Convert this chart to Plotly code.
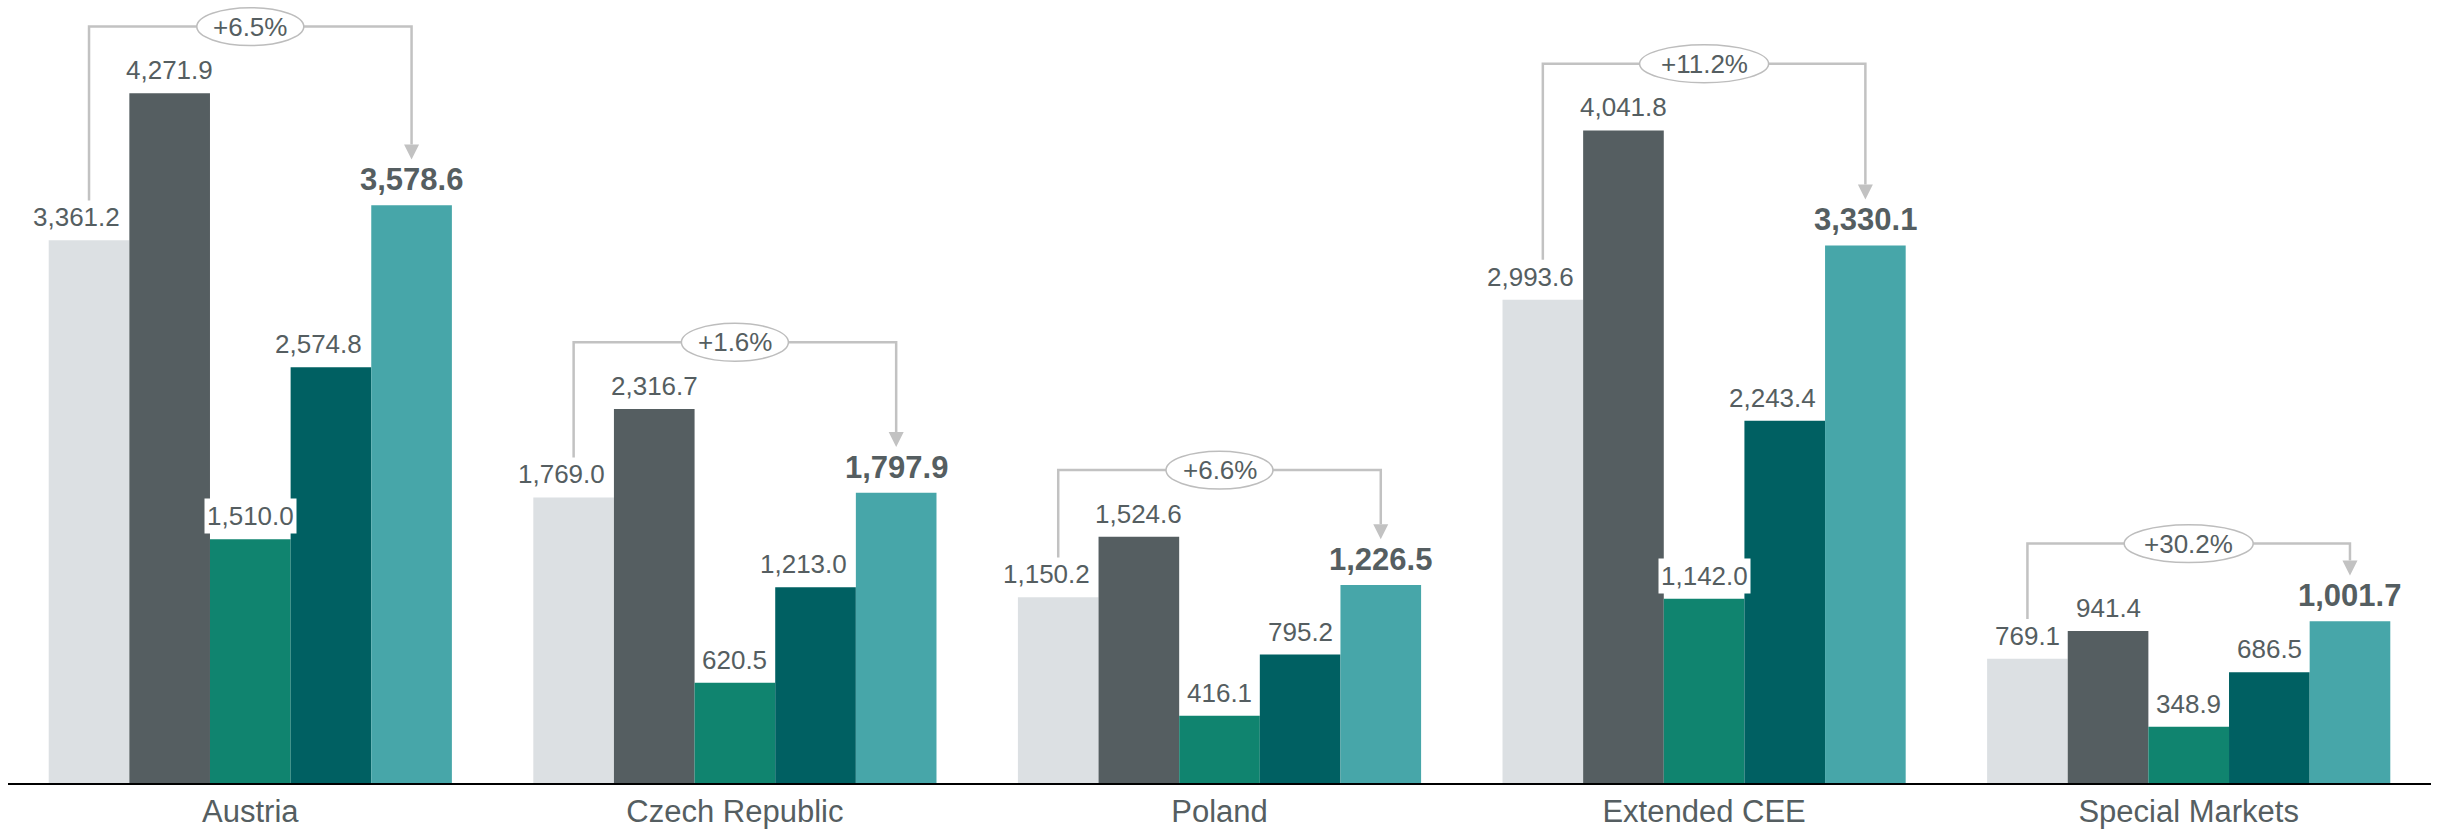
import plotly.graph_objects as go

# ---------------- data ----------------
categories = ["Austria", "Czech Republic", "Poland", "Extended CEE", "Special Markets"]
series_a = [3361.2, 1769.0, 1150.2, 2993.6, 769.1]      # light grey
series_b = [4271.9, 2316.7, 1524.6, 4041.8, 941.4]      # dark grey
series_c = [1510.0, 620.5, 416.1, 1142.0, 348.9]        # green
series_d = [2574.8, 1213.0, 795.2, 2243.4, 686.5]       # dark teal
series_e = [3578.6, 1797.9, 1226.5, 3330.1, 1001.7]     # teal (highlighted)
growth_labels = ["+6.5%", "+1.6%", "+6.6%", "+11.2%", "+30.2%"]

# ---------------- styling / layout constants ----------------
W, H = 2440, 829
MARGIN = dict(l=8, r=9, t=0, b=43)
YMAX = 4850
colors = ["#DCE0E3", "#555E61", "#10846F", "#006062", "#47A6A9"]
TXT = "#555E61"
BRK = "#C2C2C2"
FONT = "Arial, Liberation Sans, sans-serif"
BARGAP = 0.168
LBL_SIZE, LBL_BOLD_SIZE = 26, 31

all_series = [series_a, series_b, series_c, series_d, series_e]
n_ser = len(all_series)
xs = list(range(len(categories)))

plot_w = W - MARGIN["l"] - MARGIN["r"]
plot_h = H - MARGIN["t"] - MARGIN["b"]
upp_y = YMAX / plot_h              # data units per pixel (y)
upp_x = len(categories) / plot_w   # data units per pixel (x)
bw = (1 - BARGAP) / n_ser          # bar width in x data units
bw_px = bw / upp_x


def text_width(s, size):
    em = sum(0.278 if ch in ",." else 0.556 for ch in s)
    return em * size


fig = go.Figure()
for s, c in zip(all_series, colors):
    fig.add_trace(go.Bar(x=xs, y=s, marker=dict(color=c, line=dict(width=0)),
                         hoverinfo="skip"))

annotations = []
shapes = []
for i in xs:
    for j, s in enumerate(all_series):
        xj = i + (j - (n_ser - 1) / 2) * bw
        bold = j == n_ser - 1
        size = LBL_BOLD_SIZE if bold else LBL_SIZE
        txt = f"{s[i]:,.1f}"
        v = s[i]
        left_taller = j > 0 and all_series[j - 1][i] > v
        right_taller = j < n_ser - 1 and all_series[j + 1][i] > v
        wide = text_width(txt, size) > bw_px
        ann = dict(x=xj, y=v, xref="x", yref="y",
                   text=f"<b>{txt}</b>" if bold else txt,
                   showarrow=False, yanchor="bottom", xanchor="center", yshift=5,
                   borderpad=2,
                   font=dict(family=FONT, size=size, color=TXT))
        if wide and right_taller and not left_taller:
            ann.update(x=xj + bw / 2, xanchor="right", xshift=-6)
        elif wide and right_taller and left_taller:
            ann.update(bgcolor="white")
        annotations.append(ann)

    # growth bracket from first to last series
    x1 = i - (n_ser - 1) / 2 * bw
    x5 = i + (n_ser - 1) / 2 * bw
    v1, v5 = series_a[i], series_e[i]
    vmax = max(s[i] for s in all_series)
    y_left = v1 + 40 * upp_y
    y_tip = v5 + 46 * upp_y
    y_top = max(vmax + 67 * upp_y, v5 + 78 * upp_y)
    y_head = y_tip + 15 * upp_y
    shapes.append(dict(type="path", xref="x", yref="y",
                       path=f"M {x1},{y_left} L {x1},{y_top} L {x5},{y_top} L {x5},{y_head}",
                       line=dict(color=BRK, width=2.5)))
    shapes.append(dict(type="path", xref="x", yref="y",
                       path=(f"M {x5 - 7.5 * upp_x},{y_head} L {x5 + 7.5 * upp_x},{y_head} "
                             f"L {x5},{y_tip} Z"),
                       fillcolor=BRK, line=dict(color=BRK, width=0)))
    ew = 22 * len(growth_labels[i]) - 3
    shapes.append(dict(type="circle", xref="x", yref="y",
                       xsizemode="pixel", xanchor=i, x0=-ew / 2, x1=ew / 2,
                       y0=y_top - 19 * upp_y, y1=y_top + 19 * upp_y,
                       fillcolor="white", line=dict(color="#BDBDBD", width=1.5)))
    annotations.append(dict(x=i, y=y_top, xref="x", yref="y", text=growth_labels[i],
                            showarrow=False, xanchor="center", yanchor="middle",
                            font=dict(family=FONT, size=26, color=TXT)))

fig.update_layout(
    width=W, height=H, margin=MARGIN,
    paper_bgcolor="white", plot_bgcolor="white",
    barmode="group", bargap=BARGAP, bargroupgap=0,
    showlegend=False,
    shapes=shapes, annotations=annotations,
    xaxis=dict(range=[-0.5, len(categories) - 0.5], tickvals=xs, ticktext=categories,
               showline=True, linecolor="black", linewidth=2, showgrid=False,
               zeroline=False, ticks="",
               tickfont=dict(family=FONT, size=31, color=TXT)),
    yaxis=dict(range=[0, YMAX], visible=False, showgrid=False, zeroline=False),
)

fig.write_html("out.html", config={"displayModeBar": False},
               post_script="document.body.style.margin='0';document.body.style.overflow='hidden';")
